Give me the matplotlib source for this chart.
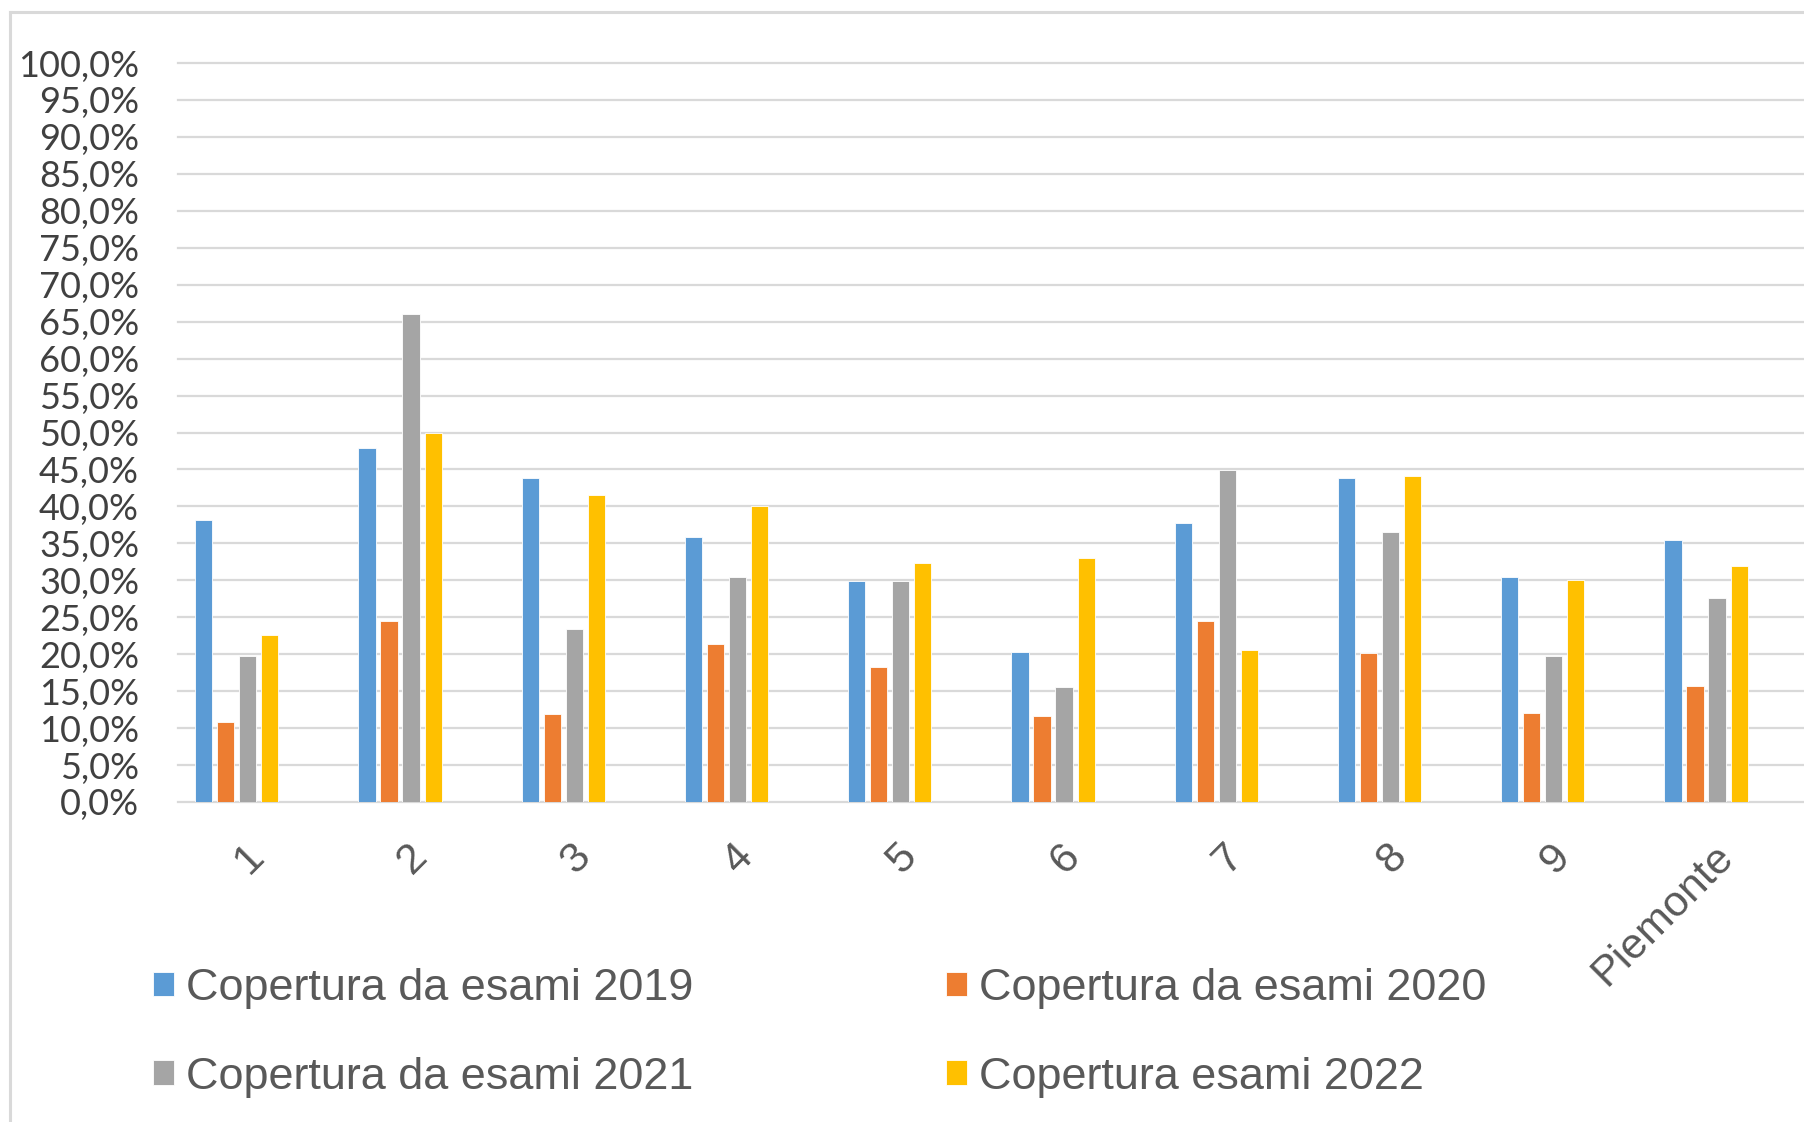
import numpy as np
import matplotlib
matplotlib.use("Agg")
import matplotlib.pyplot as plt
from matplotlib.lines import Line2D
from matplotlib.transforms import ScaledTranslation

# Data (percent)
categories = ["1", "2", "3", "4", "5", "6", "7", "8", "9", "Piemonte"]
cov_2019 = [38.1, 47.9, 43.8, 35.9, 29.9, 20.3, 37.7, 43.8, 30.5, 35.4]
cov_2020 = [10.8, 24.5, 11.9, 21.4, 18.3, 11.7, 24.5, 20.2, 12.0, 15.7]
cov_2021 = [19.7, 66.0, 23.4, 30.5, 29.9, 15.5, 44.9, 36.5, 19.7, 27.6]
cov_2022 = [22.6, 50.0, 41.5, 40.0, 32.3, 33.0, 20.6, 44.1, 30.0, 31.9]
series_labels = ["Copertura da esami 2019", "Copertura da esami 2020",
                 "Copertura da esami 2021", "Copertura esami 2022"]
colors = ["#5B9BD5", "#ED7D31", "#A5A5A5", "#FFC000"]
y_ticks = list(range(0, 101, 5))

W, H = 1804, 1122
fig = plt.figure(figsize=(W / 100, H / 100), dpi=100)
ax = fig.add_axes([178 / W, 1 - 802 / H, 1 - 178 / W, (802 - 63) / H])

x = np.arange(len(categories))
step = 0.135
width = 0.105
handles = []
for i, (vals, c) in enumerate(zip([cov_2019, cov_2020, cov_2021, cov_2022], colors)):
    b = ax.bar(x + (i - 1.5) * step, vals, width=width, color=c,
               edgecolor="white", linewidth=0.6, zorder=3)
    handles.append(b)

ax.set_xlim(-0.36, 9.60)
ax.set_ylim(0, 100)
for s in ax.spines.values():
    s.set_visible(False)

# gridlines (not clipped, so 0% and 100% lines are full width)
for t in y_ticks:
    ax.axhline(t, color="#d9d9d9", lw=1.6, zorder=0, clip_on=False)

ax.set_yticks(y_ticks)
ax.set_yticklabels([f"{t:.1f}%".replace(".", ",") for t in y_ticks],
                   fontfamily="Lato", fontsize=26, color="#404040")
ax.tick_params(axis="y", length=0, pad=28)

ax.set_xticks(x)
ax.set_xticklabels(categories, rotation=45, ha="right", va="center",
                   rotation_mode="anchor", fontfamily="Liberation Sans",
                   fontsize=31, color="#595959")
ax.tick_params(axis="x", length=0, pad=35)
for lbl in ax.get_xticklabels():
    lbl.set_transform(lbl.get_transform() + ScaledTranslation(0.21, 0, fig.dpi_scale_trans))

# legend fills by column, so reorder to get rows 2019/2020 and 2021/2022
order = [0, 2, 1, 3]
leg = fig.legend([handles[i] for i in order], [series_labels[i] for i in order],
                 ncol=2, loc="upper left",
                 bbox_to_anchor=(153 / W, 1 - 968 / H), frameon=False,
                 prop={"family": "Liberation Sans", "size": 32.4},
                 handlelength=0.47, handleheight=0.47, handletextpad=0.27,
                 columnspacing=5.6, labelspacing=1.06, borderpad=0, borderaxespad=0)
for t in leg.get_texts():
    t.set_color("#595959")

# outer chart border (only left and top visible in the crop)
fig.add_artist(Line2D([10 / W, 10 / W], [0, 1 - 12 / H], color="#d9d9d9", lw=2.2))
fig.add_artist(Line2D([10 / W, 1], [1 - 12 / H, 1 - 12 / H], color="#d9d9d9", lw=2.2))

fig.savefig("out.png", dpi=100)
